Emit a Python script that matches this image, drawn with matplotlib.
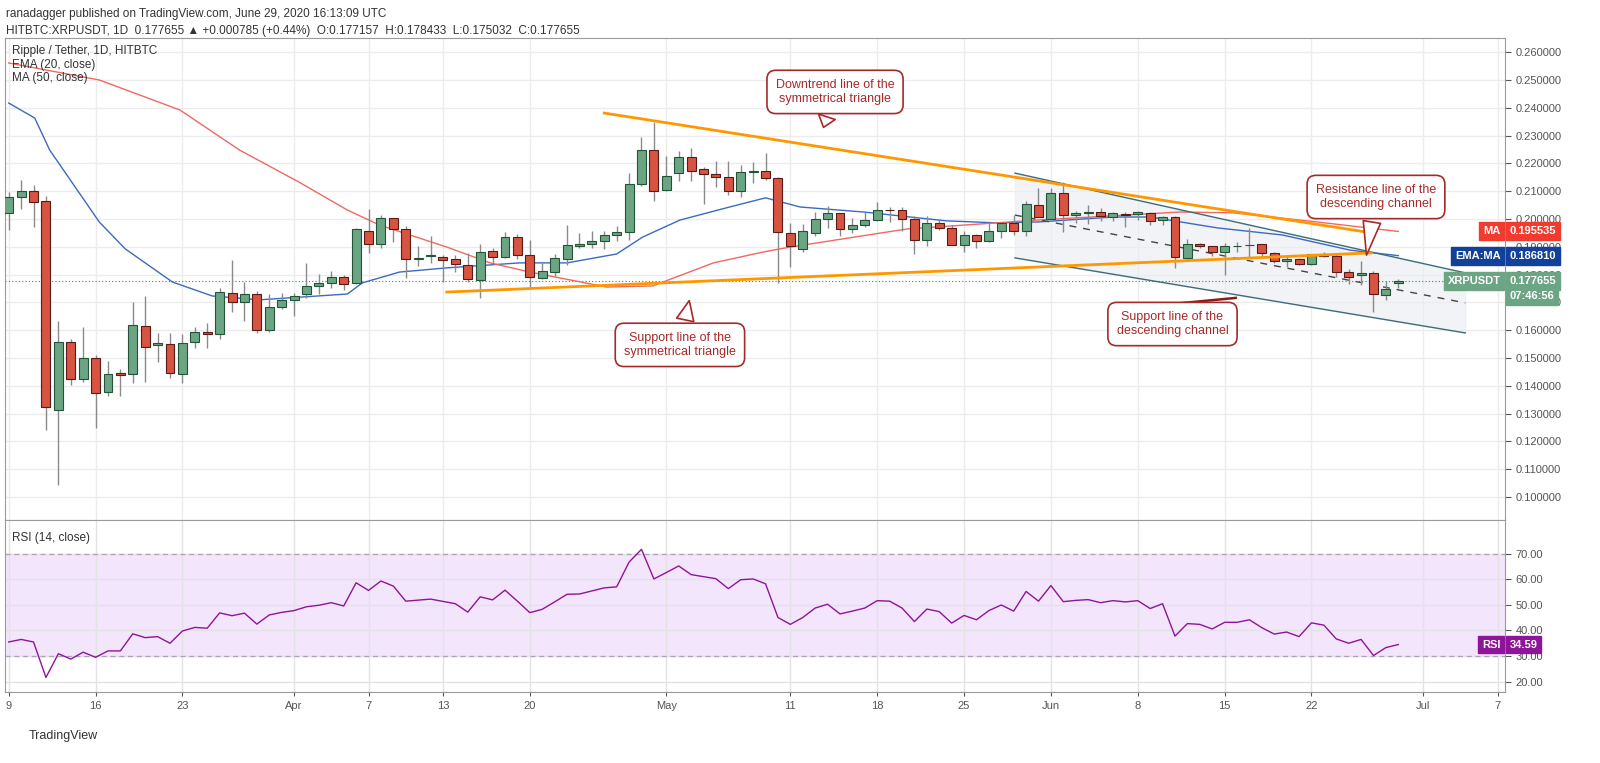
import matplotlib.pyplot as plt
import matplotlib.transforms as mtransforms
import pandas as pd

# daily candles, Mar 9 .. Jun 29 2020
dates = pd.date_range('2020-03-09', '2020-06-29')
opens = [0.2023, 0.2078, 0.2101, 0.2066, 0.1313, 0.1556, 0.1426, 0.1499, 0.1378, 0.1445,
         0.1441, 0.1615, 0.1545, 0.1549, 0.1441, 0.1556, 0.1594, 0.1587, 0.1732, 0.1700,
         0.1729, 0.1600, 0.1683, 0.1710, 0.1729, 0.1759, 0.1771, 0.1790, 0.1771, 0.1957,
         0.1909, 0.2002, 0.1963, 0.1857, 0.1865, 0.1864, 0.1856, 0.1836, 0.1780, 0.1885,
         0.1864, 0.1934, 0.1869, 0.1787, 0.1810, 0.1857, 0.1901, 0.1910, 0.1921, 0.1944,
         0.1954, 0.2125, 0.2248, 0.2104, 0.2164, 0.2222, 0.2179, 0.2162, 0.2152, 0.2099,
         0.2170, 0.2172, 0.2147, 0.1949, 0.1891, 0.1951, 0.1999, 0.2020, 0.1963, 0.1978,
         0.1995, 0.2033, 0.2031, 0.1999, 0.1923, 0.1985, 0.1969, 0.1907, 0.1943, 0.1919,
         0.1955, 0.1985, 0.1958, 0.2051, 0.2000, 0.2094, 0.2014, 0.2022, 0.2024, 0.2006,
         0.2018, 0.2019, 0.2020, 0.1997, 0.2006, 0.1861, 0.1909, 0.1901, 0.1880, 0.1901,
         0.1905, 0.1909, 0.1876, 0.1850, 0.1856, 0.1838, 0.1873, 0.1865, 0.1810, 0.1798,
         0.1804, 0.1727, 0.1771]
highs = [0.2098, 0.2140, 0.2122, 0.2083, 0.1633, 0.1568, 0.1610, 0.1510, 0.1489, 0.1462,
         0.1700, 0.1722, 0.1589, 0.1591, 0.1586, 0.1610, 0.1624, 0.1750, 0.1853, 0.1773,
         0.1742, 0.1729, 0.1733, 0.1733, 0.1840, 0.1802, 0.1813, 0.1798, 0.1966, 0.2035,
         0.2015, 0.2005, 0.1973, 0.1903, 0.1939, 0.1870, 0.1870, 0.1877, 0.1910, 0.1894,
         0.1954, 0.1945, 0.1925, 0.1840, 0.1874, 0.1978, 0.1948, 0.1957, 0.1958, 0.1973,
         0.2167, 0.2294, 0.2350, 0.2227, 0.2244, 0.2254, 0.2188, 0.2209, 0.2209, 0.2194,
         0.2206, 0.2238, 0.2150, 0.1984, 0.1982, 0.2026, 0.2047, 0.2023, 0.2002, 0.2025,
         0.2061, 0.2042, 0.2043, 0.2011, 0.2009, 0.1999, 0.1978, 0.1955, 0.1946, 0.1985,
         0.1987, 0.2013, 0.2063, 0.2111, 0.2110, 0.2134, 0.2030, 0.2049, 0.2039, 0.2024,
         0.2026, 0.2030, 0.2026, 0.2011, 0.2011, 0.1927, 0.1915, 0.1903, 0.1913, 0.1918,
         0.1966, 0.1911, 0.1882, 0.1865, 0.1860, 0.1875, 0.1882, 0.1874, 0.1819, 0.1847,
         0.1812, 0.1778, 0.1784]
lows = [0.1960, 0.2035, 0.1972, 0.1241, 0.1043, 0.1402, 0.1412, 0.1249, 0.1362, 0.1362,
        0.1409, 0.1415, 0.1487, 0.1427, 0.1411, 0.1537, 0.1537, 0.1567, 0.1667, 0.1634,
        0.1591, 0.1594, 0.1677, 0.1652, 0.1714, 0.1731, 0.1750, 0.1745, 0.1766, 0.1879,
        0.1894, 0.1918, 0.1789, 0.1829, 0.1840, 0.1775, 0.1810, 0.1775, 0.1714, 0.1840,
        0.1860, 0.1855, 0.1757, 0.1785, 0.1795, 0.1834, 0.1894, 0.1894, 0.1891, 0.1921,
        0.1925, 0.2119, 0.2066, 0.2102, 0.2138, 0.2138, 0.2053, 0.2116, 0.2086, 0.2080,
        0.2128, 0.2139, 0.1768, 0.1826, 0.1880, 0.1937, 0.1966, 0.1939, 0.1948, 0.1970,
        0.1991, 0.1990, 0.1955, 0.1874, 0.1901, 0.1961, 0.1907, 0.1880, 0.1894, 0.1918,
        0.1931, 0.1944, 0.1939, 0.2006, 0.2000, 0.1954, 0.1987, 0.1982, 0.1994, 0.1993,
        0.1970, 0.1995, 0.1978, 0.1978, 0.1823, 0.1847, 0.1894, 0.1865, 0.1799, 0.1882,
        0.1862, 0.1862, 0.1840, 0.1828, 0.1834, 0.1834, 0.1862, 0.1792, 0.1766, 0.1763,
        0.1667, 0.1710, 0.1750]
closes = [0.2078, 0.2101, 0.2062, 0.1323, 0.1556, 0.1426, 0.1499, 0.1374, 0.1441, 0.1439,
          0.1619, 0.1538, 0.1552, 0.1445, 0.1553, 0.1595, 0.1587, 0.1736, 0.1703, 0.1729,
          0.1600, 0.1682, 0.1708, 0.1723, 0.1759, 0.1769, 0.1790, 0.1767, 0.1963, 0.1909,
          0.2003, 0.1963, 0.1855, 0.1861, 0.1871, 0.1853, 0.1838, 0.1783, 0.1882, 0.1864,
          0.1934, 0.1870, 0.1792, 0.1812, 0.1859, 0.1905, 0.1909, 0.1921, 0.1944, 0.1954,
          0.2127, 0.2248, 0.2099, 0.2156, 0.2222, 0.2174, 0.2163, 0.2152, 0.2102, 0.2168,
          0.2172, 0.2149, 0.1954, 0.1901, 0.1955, 0.1999, 0.2020, 0.1963, 0.1978, 0.1995,
          0.2032, 0.2031, 0.1999, 0.1925, 0.1985, 0.1969, 0.1908, 0.1941, 0.1919, 0.1955,
          0.1985, 0.1958, 0.2053, 0.2006, 0.2092, 0.2016, 0.2020, 0.2024, 0.2012, 0.2020,
          0.2015, 0.2024, 0.1993, 0.2006, 0.1862, 0.1909, 0.1901, 0.1880, 0.1901, 0.1904,
          0.1908, 0.1876, 0.1850, 0.1856, 0.1838, 0.1873, 0.1867, 0.1810, 0.1792, 0.1804,
          0.1729, 0.1748, 0.177655]

# indicator lines (day index, value)
ema_days = [0, 2.1, 3.3, 7.3, 9.4, 13.2, 16.4, 20.2, 27.3, 28.5, 31.5, 35.3, 41.2, 45, 49,
            51.1, 54.1, 58.1, 61, 63.8, 68.9, 75.6, 79.7, 82.9, 89, 92, 97.4, 102.7, 108.1, 112]
ema_vals = [0.2417, 0.2363, 0.2248, 0.1989, 0.1892, 0.1773, 0.1723, 0.1709, 0.1730, 0.1770,
            0.1809, 0.1824, 0.1842, 0.1842, 0.1874, 0.1935, 0.1996, 0.2043, 0.2076, 0.2043,
            0.2025, 0.1993, 0.1986, 0.1989, 0.2007, 0.2007, 0.1968, 0.1942, 0.1888, 0.1868]
ma_days = [0, 7.3, 13.8, 18.6, 23.5, 27.3, 29.9, 35.3, 38.8, 42, 48.2, 51.9, 56.8, 60.8, 63,
           72.4, 82.9, 94.4, 98.7, 105.5, 112]
ma_vals = [0.2561, 0.2500, 0.2392, 0.2248, 0.2130, 0.2032, 0.1978, 0.1899, 0.1842, 0.1809,
           0.1755, 0.1759, 0.1842, 0.1881, 0.1899, 0.1964, 0.1996, 0.2025, 0.2022, 0.1989, 0.1955]

rsi = [35.5, 36.5, 35.5, 21.6, 30.9, 28.8, 31.5, 29.5, 32.0, 32.0, 38.7, 37.2, 37.6, 35.0,
       39.8, 41.2, 40.9, 46.9, 45.8, 46.8, 42.5, 46.1, 47.1, 47.8, 49.3, 49.9, 50.9, 49.6,
       58.7, 55.7, 59.4, 57.4, 51.5, 51.9, 52.3, 51.4, 50.5, 47.2, 53.2, 52.0, 55.8, 51.5,
       47.0, 48.3, 51.2, 54.2, 54.3, 55.5, 56.7, 57.1, 66.8, 71.8, 60.2, 62.7, 65.3, 61.9,
       61.1, 60.3, 56.4, 59.9, 60.2, 58.3, 45.1, 42.4,
       45.1, 48.8, 50.3, 46.5, 47.6, 48.8, 51.7, 51.5, 48.8, 43.5, 48.4, 47.4, 42.9, 45.9,
       44.2, 47.8, 50.0, 47.6, 55.3, 51.5, 57.6, 51.3, 51.8, 52.1, 50.9, 51.7, 51.2, 51.7,
       48.6, 50.5, 37.8, 42.7, 42.4, 40.6, 43.2, 43.2, 44.2, 41.1, 38.6, 39.4, 37.6, 43.0,
       42.1, 36.7, 35.0, 36.5, 30.2, 33.3, 34.5]

# drawn trend lines: (start day, end day), (start price, end price)
tri_support = ([35.3, 109.8], [0.1737, 0.1878])
tri_down = ([48, 109.4], [0.2381, 0.1953])
chan_days = [81.1, 117.4]
chan_top = [0.2165, 0.1806]
chan_mid = [0.2014, 0.1698]
chan_bottom = [0.1860, 0.1590]

tick_days = [0, 7, 14, 23, 29, 35, 42, 53, 63, 70, 77, 84, 91, 98, 105, 114, 120]
tick_names = ['9', '16', '23', 'Apr', '7', '13', '20', 'May', '11', '18', '25', 'Jun',
              '8', '15', '22', 'Jul', '7']
price_ticks = [0.10, 0.11, 0.12, 0.13, 0.14, 0.15, 0.16, 0.17, 0.18, 0.19,
               0.20, 0.21, 0.22, 0.23, 0.24, 0.25, 0.26]


def generate_chart():
    """
    XRP/USDT daily candles with EMA, MA, trend lines and RSI panel
    """
    plt.rcParams['font.family'] = ['Liberation Sans', 'DejaVu Sans']
    fig = plt.figure(figsize=(16, 7.63), dpi=100)
    ax = fig.add_axes([5 / 1600, 243 / 763, 1500 / 1600, 482 / 763])
    rx = fig.add_axes([5 / 1600, 71 / 763, 1500 / 1600, 172 / 763], sharex=ax)

    up, down = '#6ba583', '#d75442'
    days = list(range(len(dates)))
    for d in days:
        o, h, l, c = opens[d], highs[d], lows[d], closes[d]
        col, edge = (up, '#225437') if c >= o else (down, '#5b1a13')
        ax.vlines(d, l, h, color='#8a8a8a', lw=1, zorder=3)
        ax.bar(d, max(abs(c - o), 0.0003), bottom=min(o, c), width=0.72,
               color=col, edgecolor=edge, lw=0.8, zorder=4)

    ax.plot(ema_days, ema_vals, color='#3a6bc1', lw=1, zorder=2)
    ax.plot(ma_days, ma_vals, color='#f0695f', lw=1, zorder=2)

    # channel
    ax.fill_between(chan_days, chan_bottom, chan_top, color='#e9ecf1', alpha=0.6, zorder=1)
    ax.plot(chan_days, chan_top, color='#3d6e78', lw=1, zorder=2)
    ax.plot(chan_days, chan_bottom, color='#3d6e78', lw=1, zorder=2)
    ax.plot(chan_days, chan_mid, color='#444444', lw=1, ls=(0, (5, 5)), zorder=2)
    ax.plot(*tri_support, color='#ff9800', lw=2, zorder=5)
    ax.plot(*tri_down, color='#ff9800', lw=2, zorder=5)
    ax.axhline(closes[-1], color='#2e8b57', lw=0.8, ls=(0, (1, 2)), zorder=1)

    red = '#a52a2a'
    box = dict(boxstyle='round,pad=0.7', fc='white', ec=red, lw=1.2)
    arrow = dict(arrowstyle='wedge,tail_width=1.4,shrink_factor=0.5', fc='white', ec=red, lw=1.2)
    ax.annotate('Downtrend line of the\nsymmetrical triangle', xy=(65.6, 0.2320),
                xytext=(66.6, 0.2457), ha='center', va='center', color=red, fontsize=9,
                bbox=box, arrowprops=arrow, zorder=8)
    ax.annotate('Support line of the\nsymmetrical triangle', xy=(54.9, 0.1716),
                xytext=(54.1, 0.1547), ha='center', va='center', color=red, fontsize=9,
                bbox=box, arrowprops=arrow, zorder=8)
    ax.annotate('Resistance line of the\ndescending channel', xy=(109.4, 0.1860),
                xytext=(110.2, 0.2079), ha='center', va='center', color=red, fontsize=9,
                bbox=box, arrowprops=arrow, zorder=8)
    ax.plot([88.8, 98.9], [0.1673, 0.1716], color='#8b1a1a', lw=1.8, zorder=6)
    ax.text(93.8, 0.1622, 'Support line of the\ndescending channel', ha='center', va='center',
            color=red, fontsize=9, bbox=box, zorder=8)

    ax.set_xlim(-0.3, 120.6)
    ax.set_ylim(0.0917, 0.2651)
    ax.yaxis.tick_right()
    ax.set_yticks(price_ticks)
    ax.set_yticklabels(['%.6f' % p for p in price_ticks])
    ax.tick_params(axis='y', labelsize=8, colors='#555555', length=4)
    ax.tick_params(axis='x', length=0, labelbottom=False)
    ax.set_xticks(tick_days)
    ax.grid(color='#ececec', lw=1)
    ax.set_axisbelow(True)
    for s in ax.spines.values():
        s.set_color('#9a9a9a')

    ax.text(0.005, 0.985, 'Ripple / Tether, 1D, HITBTC', transform=ax.transAxes,
            fontsize=8.5, color='#333333', va='top')
    ax.text(0.005, 0.957, 'EMA (20, close)', transform=ax.transAxes, fontsize=8.5,
            color='#333333', va='top')
    ax.text(0.005, 0.929, 'MA (50, close)', transform=ax.transAxes, fontsize=8.5,
            color='#333333', va='top')

    # right side value labels
    trans = mtransforms.blended_transform_factory(ax.transAxes, ax.transData)
    for name, val, col in [('MA', 0.195535, '#f23b2f'), ('EMA:MA', 0.186810, '#12409a'),
                           ('XRPUSDT', 0.177655, '#6ba583')]:
        ax.text(0.997, val, name, transform=trans, ha='right', va='center', fontsize=8,
                color='white', fontweight='bold',
                bbox=dict(boxstyle='square,pad=0.35', fc=col, ec=col), zorder=9)
        ax.text(1.003, val, '%.6f' % val, transform=trans, ha='left', va='center',
                fontsize=8, color='white', fontweight='bold', clip_on=False,
                bbox=dict(boxstyle='square,pad=0.35', fc=col, ec=col), zorder=9)
    ax.text(1.003, 0.1722, '07:46:56', transform=trans, ha='left', va='center',
            fontsize=8, color='white', fontweight='bold', clip_on=False,
            bbox=dict(boxstyle='square,pad=0.35', fc='#6ba583', ec='#6ba583'), zorder=9)

    # RSI panel
    rx.axhspan(30, 70, color='#f3e5fc', zorder=0)
    rx.axhline(70, color='#b0a0b8', lw=0.9, ls=(0, (4, 3)))
    rx.axhline(30, color='#b0a0b8', lw=0.9, ls=(0, (4, 3)))
    rx.plot(days, rsi, color='#8e1599', lw=1, zorder=3)
    rx.set_ylim(15.9, 83.3)
    rx.yaxis.tick_right()
    rx.set_yticks([20, 30, 40, 50, 60, 70])
    rx.set_yticklabels(['%.2f' % v for v in [20, 30, 40, 50, 60, 70]])
    rx.tick_params(axis='y', labelsize=8, colors='#555555', length=4)
    rx.set_xticks(tick_days)
    rx.set_xticklabels(tick_names)
    rx.tick_params(axis='x', labelsize=8, colors='#555555', length=3)
    rx.grid(color='#e3e3e3', lw=1)
    rx.set_axisbelow(True)
    for s in rx.spines.values():
        s.set_color('#9a9a9a')
    rx.text(0.005, 0.93, 'RSI (14, close)', transform=rx.transAxes, fontsize=8.5,
            color='#333333', va='top')
    rtrans = mtransforms.blended_transform_factory(rx.transAxes, rx.transData)
    rx.text(0.997, rsi[-1], 'RSI', transform=rtrans, ha='right', va='center', fontsize=8,
            color='white', fontweight='bold', bbox=dict(boxstyle='square,pad=0.35', fc='#8e1599', ec='#8e1599'))
    rx.text(1.003, rsi[-1], '34.59', transform=rtrans, ha='left', va='center', fontsize=8,
            color='white', fontweight='bold', clip_on=False,
            bbox=dict(boxstyle='square,pad=0.35', fc='#8e1599', ec='#8e1599'))

    fig.text(0.004, 0.982, 'ranadagger published on TradingView.com, June 29, 2020 16:13:09 UTC',
             fontsize=8.5, color='#333333', va='center')
    fig.text(0.004, 0.96, 'HITBTC:XRPUSDT, 1D  0.177655 \u25b2 +0.000785 (+0.44%)  O:0.177157  '
             'H:0.178433  L:0.175032  C:0.177655', fontsize=8.5, color='#333333', va='center')
    fig.text(0.018, 0.035, 'TradingView', fontsize=9, color='#333333', va='center')
    fig.savefig('out.png', dpi=100)


generate_chart()
